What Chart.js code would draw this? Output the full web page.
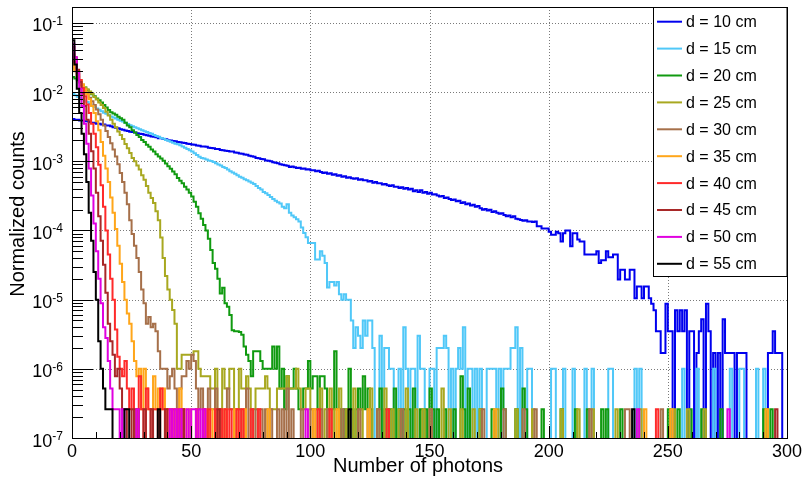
<!DOCTYPE html>
<html>
<head>
<meta charset="utf-8">
<script src="https://cdn.jsdelivr.net/npm/chart.js@4.4.1/dist/chart.umd.min.js"></script>
<style>
  html, body { margin: 0; padding: 0; background: #fff; }
  canvas { display: block; }
</style>
</head>
<body>
<canvas id="myChart" width="803" height="481"></canvas>
<script>
// photon-count histograms, one bin per photon (bin i covers [i, i+1))
const nBins = 300;
const labels = ['d = 10 cm', 'd = 15 cm', 'd = 20 cm', 'd = 25 cm', 'd = 30 cm',
  'd = 35 cm', 'd = 40 cm', 'd = 45 cm', 'd = 50 cm', 'd = 55 cm'];
const colors = ['#0000ee', '#50c8f8', '#109a10', '#a8a820', '#a6704a',
  '#ffa61a', '#ff2a2a', '#a82828', '#e000e0', '#000000'];
const xTicks = [0, 50, 100, 150, 200, 250, 300];
const yExponents = [-7, -6, -5, -4, -3, -2, -1];

// d = 10 cm
const d10Main = [
  4.1e-3, 4.0e-3, 4.0e-3, 3.9e-3, 3.9e-3, 3.8e-3, 3.8e-3, 3.7e-3, 3.6e-3, 3.6e-3, 3.5e-3, 3.5e-3, 3.4e-3, 3.4e-3, 3.3e-3,
  3.3e-3, 3.2e-3, 3.1e-3, 3.05e-3, 3.0e-3, 2.9e-3, 2.85e-3, 2.78e-3, 2.75e-3, 2.68e-3, 2.65e-3, 2.6e-3, 2.55e-3, 2.5e-3, 2.48e-3,
  2.42e-3, 2.38e-3, 2.35e-3, 2.28e-3, 2.27e-3, 2.22e-3, 2.16e-3, 2.15e-3, 2.1e-3, 2.08e-3, 2.02e-3, 2.0e-3, 1.96e-3, 1.95e-3, 1.9e-3,
  1.89e-3, 1.85e-3, 1.84e-3, 1.79e-3, 1.78e-3, 1.75e-3, 1.74e-3, 1.69e-3, 1.68e-3, 1.64e-3, 1.63e-3, 1.62e-3, 1.57e-3, 1.56e-3, 1.55e-3,
  1.5e-3, 1.5e-3, 1.46e-3, 1.45e-3, 1.42e-3, 1.41e-3, 1.38e-3, 1.38e-3, 1.34e-3, 1.33e-3, 1.3e-3, 1.29e-3, 1.25e-3, 1.24e-3, 1.2e-3,
  1.18e-3, 1.16e-3, 1.12e-3, 1.11e-3, 1.08e-3, 1.07e-3, 1.03e-3, 1.02e-3, 1.0e-3, 9.7e-4, 9.5e-4, 9.4e-4, 9.1e-4, 8.9e-4, 8.8e-4,
  8.6e-4, 8.3e-4, 8.4e-4, 8.2e-4, 8.0e-4, 8.1e-4, 7.8e-4, 7.9e-4, 7.6e-4, 7.7e-4, 7.4e-4, 7.4e-4, 7.2e-4, 7.3e-4, 7.0e-4,
  6.8e-4, 6.9e-4, 6.6e-4, 6.7e-4, 6.4e-4, 6.5e-4, 6.2e-4, 6.3e-4, 6.0e-4, 6.1e-4, 5.8e-4, 5.9e-4, 5.7e-4, 5.6e-4, 5.7e-4,
  5.4e-4, 5.5e-4, 5.3e-4, 5.3e-4, 5.1e-4, 5.2e-4, 4.9e-4, 5.0e-4, 4.8e-4, 4.8e-4, 4.6e-4, 4.7e-4, 4.5e-4, 4.4e-4, 4.5e-4,
  4.3e-4, 4.3e-4, 4.1e-4, 4.2e-4, 4.0e-4, 4.1e-4, 3.9e-4, 4.0e-4, 3.7e-4, 3.8e-4, 3.6e-4, 3.8e-4, 3.5e-4, 3.6e-4, 3.4e-4,
  3.5e-4, 3.3e-4, 3.35e-4, 3.2e-4, 3.1e-4, 3.15e-4, 2.95e-4, 3.0e-4, 2.85e-4, 2.75e-4, 2.8e-4, 2.65e-4, 2.7e-4, 2.5e-4, 2.55e-4,
  2.4e-4, 2.45e-4, 2.3e-4, 2.35e-4, 2.2e-4, 2.25e-4, 2.1e-4, 2.0e-4, 2.05e-4, 1.95e-4, 2.0e-4, 1.85e-4, 1.9e-4, 1.8e-4, 1.75e-4,
  1.78e-4, 1.68e-4, 1.6e-4, 1.65e-4, 1.55e-4, 1.6e-4, 1.48e-4, 1.45e-4, 1.42e-4, 1.38e-4, 1.4e-4, 1.35e-4,
  1.35e-4, 1.33e-4, 1.35e-4, 1.15e-4, 1.15e-4, 1.07e-4, 1.07e-4, 1.07e-4,
  9.6e-5, 8.7e-5, 8.7e-5, 9.6e-5, 9.1e-5, 6.9e-5, 9.1e-5, 1.0e-4, 1.0e-4, 5.9e-5,
  9.1e-5, 9.1e-5, 7.4e-5, 6.9e-5, 6.9e-5, 4.5e-5, 4.5e-5, 4.5e-5, 4.5e-5, 4.5e-5,
  5.0e-5, 3.4e-5, 3.7e-5, 3.7e-5, 5.0e-5, 4.1e-5, 4.1e-5, 4.5e-5, 4.5e-5, 1.95e-5,
  2.7e-5, 2.7e-5, 1.95e-5, 1.95e-5, 2.7e-5, 2.7e-5, 1.05e-5, 1.55e-5, 1.55e-5, 1.05e-5,
  1.55e-5, 1.55e-5, 1.05e-5, 8.7e-6, 7.0e-6
];
const d10Tail = [[245, 3.5e-6], [246, 3.5e-6], [247, 1.7e-6], [248, 1.7e-6], [249, 8.7e-6], [250, 3.5e-6],
  [251, 3.5e-6], [253, 7.0e-6], [254, 3.5e-6], [255, 7.0e-6], [256, 3.5e-6], [257, 7.0e-6], [259, 3.5e-6],
  [260, 3.5e-6], [262, 1.7e-6], [263, 3.5e-6], [264, 5.2e-6], [266, 8.7e-6], [267, 3.5e-6], [269, 1.7e-6],
  [271, 1.7e-6], [273, 5.2e-6], [274, 1.7e-6], [275, 1.7e-6], [276, 1.7e-6], [277, 1.7e-6], [279, 1.7e-6],
  [280, 1.7e-6], [281, 1.7e-6], [282, 1.7e-6], [292, 1.7e-6], [293, 1.7e-6], [294, 3.5e-6], [295, 1.7e-6],
  [296, 1.7e-6], [297, 1.7e-6]];

// d = 15 cm
const d15Main = [
  9.4e-3, 9.0e-3, 8.6e-3, 8.3e-3, 7.9e-3, 7.5e-3, 7.2e-3, 6.8e-3, 6.4e-3, 6.1e-3, 5.8e-3, 5.55e-3, 5.3e-3, 5.05e-3, 4.85e-3,
  4.65e-3, 4.45e-3, 4.3e-3, 4.15e-3, 4.0e-3, 3.85e-3, 3.75e-3, 3.6e-3, 3.45e-3, 3.32e-3, 3.2e-3, 3.1e-3, 3.0e-3, 2.9e-3, 2.8e-3,
  2.72e-3, 2.65e-3, 2.56e-3, 2.5e-3, 2.4e-3, 2.33e-3, 2.26e-3, 2.18e-3, 2.12e-3, 2.04e-3, 1.98e-3, 1.92e-3, 1.86e-3, 1.8e-3, 1.76e-3,
  1.7e-3, 1.64e-3, 1.57e-3, 1.51e-3, 1.45e-3, 1.38e-3, 1.31e-3, 1.23e-3, 1.16e-3, 1.12e-3, 1.1e-3, 1.06e-3, 1.03e-3, 1.01e-3, 9.8e-4,
  9.4e-4, 9.0e-4, 8.7e-4, 8.3e-4, 8.0e-4, 7.6e-4, 7.2e-4, 6.9e-4, 6.6e-4, 6.3e-4, 6.0e-4, 5.8e-4, 5.5e-4, 5.3e-4, 5.1e-4,
  4.9e-4, 4.7e-4, 4.4e-4, 4.1e-4, 3.9e-4, 3.6e-4, 3.45e-4, 3.25e-4, 3.05e-4, 2.85e-4, 2.7e-4, 2.55e-4, 2.45e-4, 2.2e-4, 2.1e-4,
  2.4e-4, 1.8e-4, 1.65e-4, 1.55e-4, 1.45e-4, 1.35e-4, 1.1e-4, 9.2e-5, 8.0e-5, 6.6e-5, 6.6e-5, 6.6e-5, 3.8e-5, 3.8e-5, 5.0e-5,
  4.3e-5, 3.4e-5, 1.5e-5, 1.8e-5, 1.8e-5, 1.6e-5, 1.8e-5, 1.2e-5, 1.0e-5, 1.2e-5, 1.0e-5, 1.0e-5, 5e-6, 2e-6, 4e-6,
  3e-6, 2e-6, 5e-6, 3e-6, 5e-6, 5e-6, 2e-6
];
const d15Tail = [[129, 3e-6], [131, 2e-6], [132, 2e-6], [133, 1e-6], [134, 1e-6], [137, 1e-6], [139, 4e-6],
  [140, 1e-6], [142, 1e-6], [143, 1e-6], [145, 3e-6], [146, 1e-6], [147, 1e-6], [150, 1e-6], [151, 1e-6],
  [153, 2e-6], [154, 2e-6], [155, 2e-6], [156, 3e-6], [157, 2e-6], [159, 1e-6], [161, 1e-6], [162, 2e-6],
  [163, 1e-6], [164, 4e-6], [166, 1e-6], [167, 1e-6], [169, 1e-6], [171, 1e-6], [174, 1e-6], [175, 1e-6],
  [176, 1e-6], [177, 1e-6], [179, 1e-6], [181, 1e-6], [182, 1e-6], [183, 1e-6], [184, 2e-6], [185, 2e-6],
  [186, 4e-6], [188, 2e-6], [191, 1e-6], [192, 1e-6], [201, 1e-6], [202, 1e-6], [206, 1e-6], [210, 1e-6],
  [215, 1e-6], [218, 1e-6], [225, 1e-6], [226, 1e-6], [236, 1e-6], [238, 1e-6], [256, 1e-6], [262, 1e-6],
  [269, 1e-6], [276, 1e-6], [280, 1e-6], [281, 1e-6], [287, 1e-6], [290, 1e-6]];

// d = 20 cm
const d20Main = [
  1.66e-2, 1.58e-2, 1.48e-2, 1.38e-2, 1.26e-2, 1.17e-2, 1.07e-2, 1.0e-2, 9.3e-3, 8.7e-3, 8.1e-3, 7.6e-3, 7.1e-3, 6.5e-3, 6.0e-3,
  5.5e-3, 5.1e-3, 4.9e-3, 4.7e-3, 4.4e-3, 4.2e-3, 4.0e-3, 3.6e-3, 3.3e-3, 3.1e-3, 2.8e-3, 2.6e-3, 2.4e-3, 2.24e-3, 2.04e-3,
  1.9e-3, 1.74e-3, 1.62e-3, 1.48e-3, 1.38e-3, 1.26e-3, 1.17e-3, 1.1e-3, 1.02e-3, 9.3e-4, 8.5e-4, 7.8e-4, 7.1e-4, 6.5e-4, 5.75e-4,
  5.25e-4, 4.8e-4, 4.3e-4, 3.9e-4, 3.5e-4, 3.1e-4, 2.6e-4, 2.2e-4, 1.78e-4, 1.48e-4, 1.2e-4, 1.0e-4, 7.6e-5, 5.2e-5, 3.4e-5,
  2.8e-5, 2.0e-5, 1.23e-5, 1.48e-5, 8.9e-6, 7.9e-6, 6.0e-6, 3.6e-6, 3.5e-6, 3.5e-6, 3.4e-6, 3.1e-6, 2.1e-6, 1.6e-6, 1.3e-6,
  7.8e-7, 1.8e-6, 1.8e-6, 1.8e-6, 1.3e-6, 1.0e-6, 1.0e-6, 1.0e-6, 1.0e-6, 2.1e-6, 1.0e-6, 2.1e-6, 5.2e-7, 1.0e-6, 2.6e-7,
  7.8e-7, 5.2e-7, 5.2e-7, 1.0e-6, 5.2e-7, 2.6e-7, 2.6e-7, 5.2e-7, 5.2e-7, 1.3e-6, 5.2e-7, 7.8e-7, 7.8e-7, 2.6e-7, 7.8e-7,
  7.8e-7, 5.2e-7, 2.6e-7, 2.6e-7, 2.6e-7, 1.8e-6, 2.6e-7, 2.6e-7, 0, 2.6e-7, 0, 1.0e-6, 2.6e-7, 0, 2.6e-7,
  5.2e-7, 2.6e-7, 7.8e-7, 2.6e-7, 5.2e-7, 2.6e-7
];
const d20Tail = [[128, 2.6e-7], [129, 5.2e-7], [131, 2.6e-7], [133, 2.6e-7], [135, 5.2e-7], [137, 2.6e-7],
  [139, 2.6e-7], [141, 2.6e-7], [143, 5.2e-7], [146, 2.6e-7], [148, 2.6e-7], [150, 5.2e-7], [151, 2.6e-7],
  [153, 2.6e-7], [156, 2.6e-7], [160, 2.6e-7], [163, 7.8e-7], [164, 2.6e-7], [166, 5.2e-7], [171, 2.6e-7],
  [176, 2.6e-7], [180, 5.2e-7], [181, 2.6e-7], [186, 2.6e-7], [189, 5.2e-7], [190, 2.6e-7], [197, 2.6e-7],
  [205, 2.6e-7], [211, 2.6e-7], [216, 2.6e-7], [222, 2.6e-7], [224, 2.6e-7], [230, 2.6e-7], [250, 2.6e-7],
  [254, 2.6e-7], [259, 2.6e-7], [264, 2.6e-7], [272, 2.6e-7], [290, 2.6e-7], [293, 2.6e-7]];

// d = 25 cm
const d25Main = [
  2.5e-2, 2.0e-2, 1.66e-2, 1.45e-2, 1.29e-2, 1.17e-2, 1.1e-2, 1.02e-2, 9.5e-3, 8.5e-3, 7.8e-3, 7.1e-3, 6.5e-3, 5.9e-3, 5.2e-3,
  4.6e-3, 4.0e-3, 3.5e-3, 3.1e-3, 2.7e-3, 2.4e-3, 2.1e-3, 1.78e-3, 1.55e-3, 1.32e-3, 1.12e-3, 1.0e-3, 8.7e-4, 7.6e-4, 6.3e-4,
  5.4e-4, 4.4e-4, 3.5e-4, 2.95e-4, 2.5e-4, 1.9e-4, 1.4e-4, 7.9e-5, 4.0e-5, 2.2e-5, 1.4e-5, 1.0e-5, 7.1e-6, 4.5e-6, 1.0e-6
];
const d25Tail = [[45, 1.0e-6], [46, 1.6e-6], [47, 1.6e-6], [48, 1.6e-6], [49, 1.6e-6], [50, 1.6e-6], [51, 1.8e-6],
  [52, 1.8e-6], [53, 1.0e-6], [54, 7.8e-7], [55, 7.8e-7], [56, 7.8e-7], [57, 7.8e-7], [58, 5.2e-7], [59, 5.2e-7],
  [60, 1.0e-6], [61, 2.6e-7], [62, 2.6e-7], [63, 1.0e-6], [64, 5.2e-7], [65, 5.2e-7], [66, 1.0e-6], [67, 1.0e-6],
  [68, 2.6e-7], [69, 2.6e-7], [70, 1.0e-6], [71, 5.2e-7], [72, 5.2e-7], [73, 7.8e-7], [74, 5.2e-7], [75, 2.6e-7],
  [76, 2.6e-7], [77, 5.2e-7], [78, 5.2e-7], [79, 5.2e-7], [80, 5.2e-7], [81, 7.8e-7], [82, 5.2e-7], [83, 2.6e-7],
  [84, 2.6e-7], [85, 2.6e-7], [86, 5.2e-7], [87, 5.2e-7], [88, 5.2e-7], [89, 5.2e-7], [90, 7.8e-7], [91, 5.2e-7],
  [92, 5.2e-7], [93, 5.2e-7], [94, 1.0e-6], [95, 5.2e-7], [96, 2.6e-7], [97, 2.6e-7], [98, 5.2e-7], [99, 5.2e-7],
  [100, 2.6e-7], [101, 2.6e-7], [102, 2.6e-7], [104, 5.2e-7], [106, 2.6e-7], [108, 5.2e-7], [110, 2.6e-7],
  [112, 5.2e-7], [115, 2.6e-7], [118, 5.2e-7], [121, 2.6e-7], [125, 5.2e-7], [128, 2.6e-7], [131, 5.2e-7],
  [134, 2.6e-7], [137, 2.6e-7], [140, 5.2e-7], [144, 2.6e-7], [147, 2.6e-7], [150, 2.6e-7], [155, 5.2e-7],
  [158, 2.6e-7], [163, 2.6e-7], [168, 2.6e-7], [171, 2.6e-7], [178, 2.6e-7], [186, 2.6e-7], [193, 2.6e-7],
  [205, 2.6e-7], [212, 2.6e-7], [218, 2.6e-7], [228, 2.6e-7], [238, 2.6e-7], [252, 2.6e-7], [258, 2.6e-7],
  [265, 2.6e-7], [291, 2.6e-7]];

// d = 30 cm
const d30Main = [
  3.2e-2, 2.2e-2, 1.8e-2, 1.5e-2, 1.26e-2, 1.1e-2, 9.5e-3, 8.3e-3, 7.4e-3, 6.5e-3, 5.6e-3, 4.8e-3, 4.0e-3, 3.3e-3, 2.75e-3,
  2.24e-3, 1.82e-3, 1.48e-3, 1.17e-3, 9.1e-4, 6.8e-4, 5.0e-4, 3.5e-4, 2.4e-4, 1.4e-4, 8.9e-5, 6.0e-5, 4.0e-5, 2.5e-5, 1.4e-5,
  8.9e-6, 4.5e-6, 5.6e-6, 4.0e-6, 4.5e-6, 3.5e-6, 1.8e-6, 1.0e-6
];
const d30Tail = [[38, 1.0e-6], [39, 1.0e-6], [40, 5.2e-7], [41, 7.8e-7], [42, 1.0e-6], [43, 5.2e-7], [44, 2.6e-7],
  [45, 5.2e-7], [46, 7.8e-7], [47, 7.8e-7], [48, 1.3e-6], [49, 1.0e-6], [50, 1.6e-6], [51, 1.3e-6], [52, 5.2e-7],
  [53, 2.6e-7], [54, 5.2e-7], [55, 2.6e-7], [57, 5.2e-7], [58, 2.6e-7], [59, 2.6e-7], [60, 5.2e-7], [61, 2.6e-7],
  [62, 2.6e-7], [64, 2.6e-7], [65, 5.2e-7], [66, 2.6e-7], [67, 2.6e-7], [69, 2.6e-7], [70, 2.6e-7], [72, 2.6e-7],
  [73, 5.2e-7], [75, 2.6e-7], [77, 2.6e-7], [79, 2.6e-7], [81, 2.6e-7], [83, 2.6e-7], [86, 2.6e-7], [88, 2.6e-7],
  [90, 5.2e-7], [92, 2.6e-7], [96, 2.6e-7], [100, 2.6e-7], [104, 2.6e-7], [107, 2.6e-7], [113, 2.6e-7],
  [120, 2.6e-7], [124, 2.6e-7], [128, 2.6e-7], [138, 2.6e-7], [150, 2.6e-7], [172, 2.6e-7], [181, 2.6e-7],
  [189, 2.6e-7], [194, 2.6e-7], [217, 2.6e-7], [232, 2.6e-7], [233, 2.6e-7], [247, 2.6e-7]];

// d = 35 cm
const d35Main = [
  2.5e-2, 2.1e-2, 1.78e-2, 1.5e-2, 1.29e-2, 1.1e-2, 9.3e-3, 7.9e-3, 6.3e-3, 5.0e-3, 3.8e-3, 2.8e-3, 1.9e-3, 1.2e-3, 7.9e-4,
  5.0e-4, 3.0e-4, 1.8e-4, 1.05e-4, 6.0e-5, 3.3e-5, 1.8e-5, 1.0e-5, 6.3e-6, 4.5e-6, 2.5e-6, 1.3e-6, 7.8e-7
];
const d35Tail = [[28, 1.0e-6], [29, 2.6e-7], [30, 1.0e-6], [31, 5.2e-7], [32, 2.6e-7], [33, 2.6e-7], [34, 7.8e-7],
  [35, 2.6e-7], [36, 5.2e-7], [37, 2.6e-7], [38, 5.2e-7], [40, 2.6e-7], [41, 2.6e-7], [43, 2.6e-7], [45, 5.2e-7],
  [47, 2.6e-7], [49, 2.6e-7], [52, 2.6e-7], [55, 2.6e-7], [58, 2.6e-7], [61, 2.6e-7], [64, 2.6e-7], [68, 2.6e-7],
  [72, 2.6e-7], [82, 2.6e-7], [101, 2.6e-7], [111, 2.6e-7], [124, 2.6e-7], [177, 2.6e-7], [240, 2.6e-7],
  [251, 2.6e-7], [291, 2.6e-7]];

// d = 40 cm
const d40Main = [
  3.5e-2, 2.7e-2, 2.0e-2, 1.5e-2, 1.15e-2, 8.7e-3, 6.6e-3, 5.0e-3, 3.5e-3, 2.5e-3, 1.6e-3, 8.9e-4, 4.5e-4, 2.2e-4, 1.0e-4,
  4.5e-5, 2.0e-5, 1.0e-5, 3.7e-6, 1.5e-6, 1.0e-6
];
const d40Tail = [[21, 7.8e-7], [22, 1.3e-6], [23, 5.2e-7], [24, 2.6e-7], [25, 5.2e-7], [26, 2.6e-7], [28, 7.8e-7],
  [29, 2.6e-7], [31, 5.2e-7], [32, 2.6e-7], [34, 2.6e-7], [35, 2.6e-7], [37, 5.2e-7], [38, 2.6e-7], [40, 2.6e-7],
  [42, 2.6e-7], [44, 2.6e-7], [46, 2.6e-7], [52, 2.6e-7], [55, 2.6e-7], [57, 2.6e-7], [60, 2.6e-7], [62, 2.6e-7],
  [64, 2.6e-7], [66, 2.6e-7], [69, 2.6e-7], [71, 2.6e-7], [75, 2.6e-7], [78, 2.6e-7], [103, 2.6e-7], [108, 2.6e-7],
  [132, 2.6e-7], [245, 2.6e-7]];

// d = 45 cm
const d45Main = [
  4.5e-2, 3.2e-2, 2.1e-2, 1.4e-2, 9.5e-3, 6.3e-3, 4.0e-3, 2.5e-3, 1.4e-3, 7.9e-4, 3.5e-4, 1.6e-4, 7.1e-5, 3.2e-5, 1.26e-5,
  4.5e-6, 2.5e-6, 1.6e-6, 7.8e-7
];
const d45Tail = [[19, 1.0e-6], [20, 5.2e-7], [21, 2.6e-7], [22, 2.6e-7], [25, 2.6e-7], [27, 2.6e-7], [30, 2.6e-7],
  [33, 2.6e-7], [39, 2.6e-7], [46, 2.6e-7], [61, 2.6e-7], [295, 2.6e-7]];

// d = 50 cm
const d50Main = [
  5.0e-2, 3.2e-2, 1.9e-2, 1.12e-2, 6.3e-3, 3.5e-3, 1.8e-3, 7.9e-4, 3.2e-4, 1.26e-4, 5.0e-5, 2.0e-5, 8.9e-6, 4.0e-6, 2.8e-6,
  1.3e-6, 5.2e-7, 2.6e-7
];
const d50Tail = [[18, 2.6e-7], [19, 2.6e-7], [21, 2.6e-7], [27, 2.6e-7], [41, 2.6e-7], [43, 2.6e-7], [45, 2.6e-7],
  [48, 2.6e-7], [50, 2.6e-7], [51, 2.6e-7], [53, 2.6e-7], [55, 2.6e-7], [98, 2.6e-7], [237, 2.6e-7], [275, 2.6e-7]];

// d = 55 cm
const d55Main = [
  5.6e-2, 2.5e-2, 1.12e-2, 5.0e-3, 2.5e-3, 1.26e-3, 5.0e-4, 1.8e-4, 7.1e-5, 2.5e-5, 1.0e-5, 2.5e-6, 1.0e-6, 5.2e-7, 2.6e-7
];
const d55Tail = [[15, 2.6e-7], [16, 2.6e-7], [22, 2.6e-7], [23, 2.6e-7], [36, 2.6e-7], [116, 2.6e-7], [235, 2.6e-7]];

const mains = [d10Main, d15Main, d20Main, d25Main, d30Main, d35Main, d40Main, d45Main, d50Main, d55Main];
const tails = [d10Tail, d15Tail, d20Tail, d25Tail, d30Tail, d35Tail, d40Tail, d45Tail, d50Tail, d55Tail];

const yMin = 1e-7;
const yMax = 0.17;
const belowAxis = 1e-9; // empty bins are drawn down past the bottom of the frame, like ROOT does

const buildHist = (main, tail) => {
  const vals = new Array(nBins).fill(0);
  main.forEach((v, i) => { vals[i] = v; });
  tail.forEach(([b, v]) => { vals[b] = v; });
  const pts = vals.map((v, i) => ({ x: i, y: v > 0 ? v : belowAxis }));
  pts.push({ x: nBins, y: belowAxis });
  return pts;
};

const datasets = labels.map((label, i) => ({
  label: label,
  data: buildHist(mains[i], tails[i]),
  borderColor: colors[i],
  borderWidth: 2,
  pointRadius: 0,
  stepped: true,
  fill: false,
  order: labels.length - i
}));

const font = '"Liberation Sans", Arial, Helvetica, sans-serif';

const rootStyle = {
  id: 'rootStyle',
  beforeDatasetsDraw(chart) {
    const { ctx, chartArea: a, scales: { x, y } } = chart;
    ctx.save();
    ctx.strokeStyle = '#7a7a7a';
    ctx.lineWidth = 1;
    ctx.setLineDash([1, 2]);
    xTicks.slice(1, -1).forEach((t) => {
      const px = Math.round(x.getPixelForValue(t)) + 0.5;
      ctx.beginPath();
      ctx.moveTo(px, a.top);
      ctx.lineTo(px, a.bottom);
      ctx.stroke();
    });
    yExponents.slice(1).forEach((e) => {
      const py = Math.round(y.getPixelForValue(Math.pow(10, e))) + 0.5;
      ctx.beginPath();
      ctx.moveTo(a.left, py);
      ctx.lineTo(a.right, py);
      ctx.stroke();
    });
    ctx.restore();
  },
  afterDatasetsDraw(chart) {
    const { ctx, chartArea: a, scales: { x, y } } = chart;
    ctx.save();
    ctx.strokeStyle = '#000';
    ctx.lineWidth = 1;

    // y ticks (inside the frame)
    yExponents.forEach((e) => {
      for (let m = 1; m <= 9; m++) {
        const v = m * Math.pow(10, e);
        if (v > yMax) break;
        const py = Math.round(y.getPixelForValue(v)) + 0.5;
        const len = m === 1 ? 21 : 11;
        ctx.beginPath();
        ctx.moveTo(a.left, py);
        ctx.lineTo(a.left + len, py);
        ctx.stroke();
      }
    });
    // x ticks
    for (let t = 0; t <= 300; t += 10) {
      const px = Math.round(x.getPixelForValue(t)) + 0.5;
      const len = t % 50 === 0 ? 12 : 6;
      ctx.beginPath();
      ctx.moveTo(px, a.bottom);
      ctx.lineTo(px, a.bottom - len);
      ctx.stroke();
    }
    // frame
    ctx.strokeRect(Math.round(a.left) + 0.5, Math.round(a.top) + 0.5,
      Math.round(a.right - a.left), Math.round(a.bottom - a.top));
    ctx.beginPath();
    ctx.moveTo(Math.round(a.left) + 0.5, a.top);
    ctx.lineTo(Math.round(a.left) + 0.5, a.bottom);
    ctx.stroke();

    // tick labels
    ctx.fillStyle = '#000';
    ctx.font = `18px ${font}`;
    ctx.textAlign = 'center';
    ctx.textBaseline = 'alphabetic';
    xTicks.forEach((t) => {
      ctx.fillText(String(t), x.getPixelForValue(t), a.bottom + 19);
    });
    yExponents.forEach((e) => {
      const py = y.getPixelForValue(Math.pow(10, e));
      const exp = String(e);
      ctx.font = `12px ${font}`;
      const we = ctx.measureText(exp).width;
      ctx.font = `18px ${font}`;
      const right = 63;
      ctx.textAlign = 'right';
      ctx.fillText('10', right - we, py + 8.5);
      ctx.font = `12px ${font}`;
      ctx.textAlign = 'left';
      ctx.fillText(exp, right - we, py + 2);
    });

    // axis titles
    ctx.font = `20px ${font}`;
    ctx.textAlign = 'center';
    ctx.fillText('Number of photons', 418, 472);
    ctx.save();
    ctx.translate(24, 214);
    ctx.rotate(-Math.PI / 2);
    ctx.fillText('Normalized counts', 0, 0);
    ctx.restore();

    // legend box
    const lx = 653.5, ly = 7.5, lw = 133.5, lh = 269;
    ctx.fillStyle = '#fff';
    ctx.fillRect(lx, ly, lw, lh);
    ctx.strokeRect(lx, ly, lw, lh);
    ctx.font = `16px ${font}`;
    ctx.textAlign = 'left';
    ctx.textBaseline = 'middle';
    labels.forEach((label, i) => {
      const cy = 21.7 + i * 26.9;
      ctx.strokeStyle = colors[i];
      ctx.lineWidth = 2;
      ctx.beginPath();
      ctx.moveTo(657, cy);
      ctx.lineTo(682, cy);
      ctx.stroke();
      ctx.fillStyle = '#000';
      ctx.fillText(label, 686, cy + 1);
    });
    ctx.restore();
  }
};

const config = {
  type: 'line',
  data: { datasets: datasets },
  options: {
    responsive: false,
    animation: false,
    events: [],
    layout: { padding: { top: 7, right: 16, left: 0, bottom: 0 } },
    plugins: { legend: { display: false }, tooltip: { enabled: false } },
    scales: {
      x: {
        type: 'linear',
        min: 0,
        max: 300,
        grid: { display: false },
        border: { display: false },
        ticks: { display: false },
        afterFit: (s) => { s.height = 43; }
      },
      y: {
        type: 'logarithmic',
        min: yMin,
        max: yMax,
        grid: { display: false },
        border: { display: false },
        ticks: { display: false },
        afterFit: (s) => { s.width = 72; }
      }
    }
  },
  plugins: [rootStyle]
};

const myChartConfig = new Chart('myChart', config);
</script>
</body>
</html>
